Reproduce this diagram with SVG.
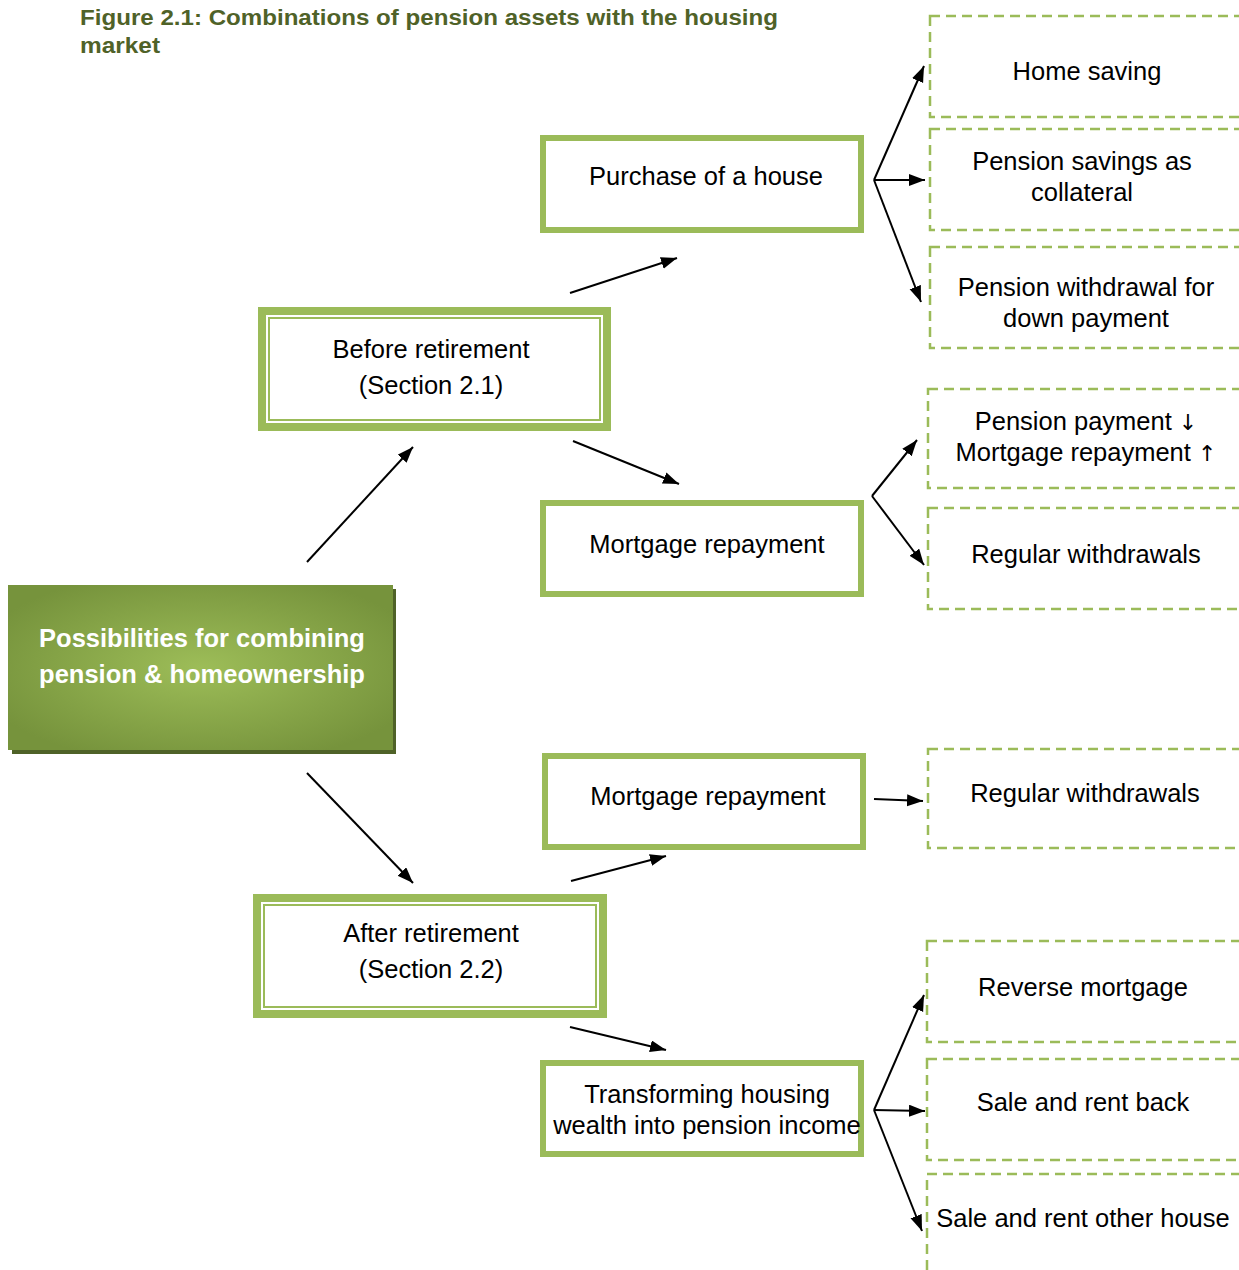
<svg xmlns="http://www.w3.org/2000/svg" width="1239" height="1270" viewBox="0 0 1239 1270">
<style>
.t{font-family:"Liberation Sans",Arial,sans-serif;font-size:25.5px;fill:#000;text-anchor:middle}
.ar{font-family:"DejaVu Sans",sans-serif;font-size:22px}
.box{fill:#fff;stroke:#9BBB59;stroke-width:6}
.dbl{fill:#fff;stroke:#9BBB59;stroke-width:8}
.thin{fill:none;stroke:#9BBB59;stroke-width:2}
.dash{fill:none;stroke:#9BBB59;stroke-width:2.5;stroke-dasharray:10 6}
.c line{stroke:#000;stroke-width:2;marker-end:url(#ah)}
</style>
<defs>
<marker id="ah" markerUnits="userSpaceOnUse" markerWidth="18" markerHeight="14" refX="16" refY="6" orient="auto"><path d="M0,0 L16,6 L0,12 z" fill="#000"/></marker>
<radialGradient id="g" cx="50%" cy="50%" r="60%"><stop offset="0" stop-color="#9DBD58"/><stop offset="1" stop-color="#76933C"/></radialGradient>
</defs>
<rect width="1239" height="1270" fill="#fff"/>
<g id="title" font-family="'Liberation Sans',Arial,sans-serif" font-weight="bold" font-size="22" fill="#4F6228">
<text x="80" y="25" textLength="698" lengthAdjust="spacingAndGlyphs">Figure 2.1: Combinations of pension assets with the housing</text>
<text x="80" y="53" textLength="80" lengthAdjust="spacingAndGlyphs">market</text>
</g>
<g id="main">
<rect x="12" y="589" width="384" height="165" fill="#4F6228"/>
<rect x="8" y="585" width="385" height="165" fill="url(#g)"/>
<text x="202" y="647" font-family="'Liberation Sans',Arial,sans-serif" font-weight="bold" font-size="25.5" fill="#fff" text-anchor="middle">Possibilities for combining</text>
<text x="202" y="683" font-family="'Liberation Sans',Arial,sans-serif" font-weight="bold" font-size="25.5" fill="#fff" text-anchor="middle">pension &amp; homeownership</text>
</g>
<g id="before">
<rect class="dbl" x="262" y="311" width="345" height="116"/>
<rect class="thin" x="269" y="318" width="331" height="102"/>
<text class="t" x="431" y="358">Before retirement</text>
<text class="t" x="431" y="394">(Section 2.1)</text>
</g>
<g id="after">
<rect class="dbl" x="257" y="898" width="346" height="116"/>
<rect class="thin" x="264" y="905" width="332" height="102"/>
<text class="t" x="431" y="942">After retirement</text>
<text class="t" x="431" y="978">(Section 2.2)</text>
</g>
<g id="purchase">
<rect class="box" x="543" y="138" width="318" height="92"/>
<text class="t" x="706" y="185">Purchase of a house</text>
</g>
<g id="mortgage1">
<rect class="box" x="543" y="503" width="318" height="91"/>
<text class="t" x="707" y="553">Mortgage repayment</text>
</g>
<g id="mortgage2">
<rect class="box" x="545" y="756" width="318" height="91"/>
<text class="t" x="708" y="805">Mortgage repayment</text>
</g>
<g id="transforming">
<rect class="box" x="543" y="1063" width="318" height="91"/>
<text class="t" x="707" y="1103">Transforming housing</text>
<text class="t" x="707" y="1134">wealth into pension income</text>
</g>
<g id="homesaving">
<rect class="dash" x="930" y="16" width="320" height="101"/>
<text class="t" x="1087" y="80">Home saving</text>
</g>
<g id="collateral">
<rect class="dash" x="930" y="129" width="320" height="101"/>
<text class="t" x="1082" y="170">Pension savings as</text>
<text class="t" x="1082" y="201">collateral</text>
</g>
<g id="downpayment">
<rect class="dash" x="930" y="247" width="320" height="101"/>
<text class="t" x="1086" y="296">Pension withdrawal for</text>
<text class="t" x="1086" y="327">down payment</text>
</g>
<g id="pensionpayment">
<rect class="dash" x="928" y="389" width="320" height="99"/>
<text class="t" x="1086" y="430">Pension payment <tspan class="ar">↓</tspan></text>
<text class="t" x="1086" y="461">Mortgage repayment <tspan class="ar">↑</tspan></text>
</g>
<g id="regular1">
<rect class="dash" x="928" y="508" width="320" height="101"/>
<text class="t" x="1086" y="563">Regular withdrawals</text>
</g>
<g id="regular2">
<rect class="dash" x="928" y="749" width="320" height="99"/>
<text class="t" x="1085" y="802">Regular withdrawals</text>
</g>
<g id="reverse">
<rect class="dash" x="927" y="941" width="320" height="101"/>
<text class="t" x="1083" y="996">Reverse mortgage</text>
</g>
<g id="rentback">
<rect class="dash" x="927" y="1059" width="320" height="101"/>
<text class="t" x="1083" y="1111">Sale and rent back</text>
</g>
<g id="rentother">
<rect class="dash" x="927" y="1174" width="320" height="120"/>
<text class="t" x="1083" y="1227">Sale and rent other house</text>
</g>
<g id="connectors" class="c">
<line x1="307" y1="562" x2="413" y2="447"/>
<line x1="307" y1="773" x2="413" y2="883"/>
<line x1="570" y1="293" x2="677" y2="258"/>
<line x1="573" y1="441" x2="679" y2="484"/>
<line x1="571" y1="881" x2="666" y2="856"/>
<line x1="570" y1="1027" x2="666" y2="1050"/>
<line x1="874" y1="180" x2="924" y2="66"/>
<line x1="874" y1="180" x2="925" y2="180"/>
<line x1="874" y1="180" x2="921" y2="302"/>
<line x1="872" y1="496" x2="917" y2="440"/>
<line x1="872" y1="496" x2="924" y2="565"/>
<line x1="874" y1="799" x2="923" y2="801"/>
<line x1="874" y1="1110" x2="924" y2="995"/>
<line x1="874" y1="1110" x2="925" y2="1111"/>
<line x1="874" y1="1110" x2="922" y2="1231"/>
</g>
</svg>
